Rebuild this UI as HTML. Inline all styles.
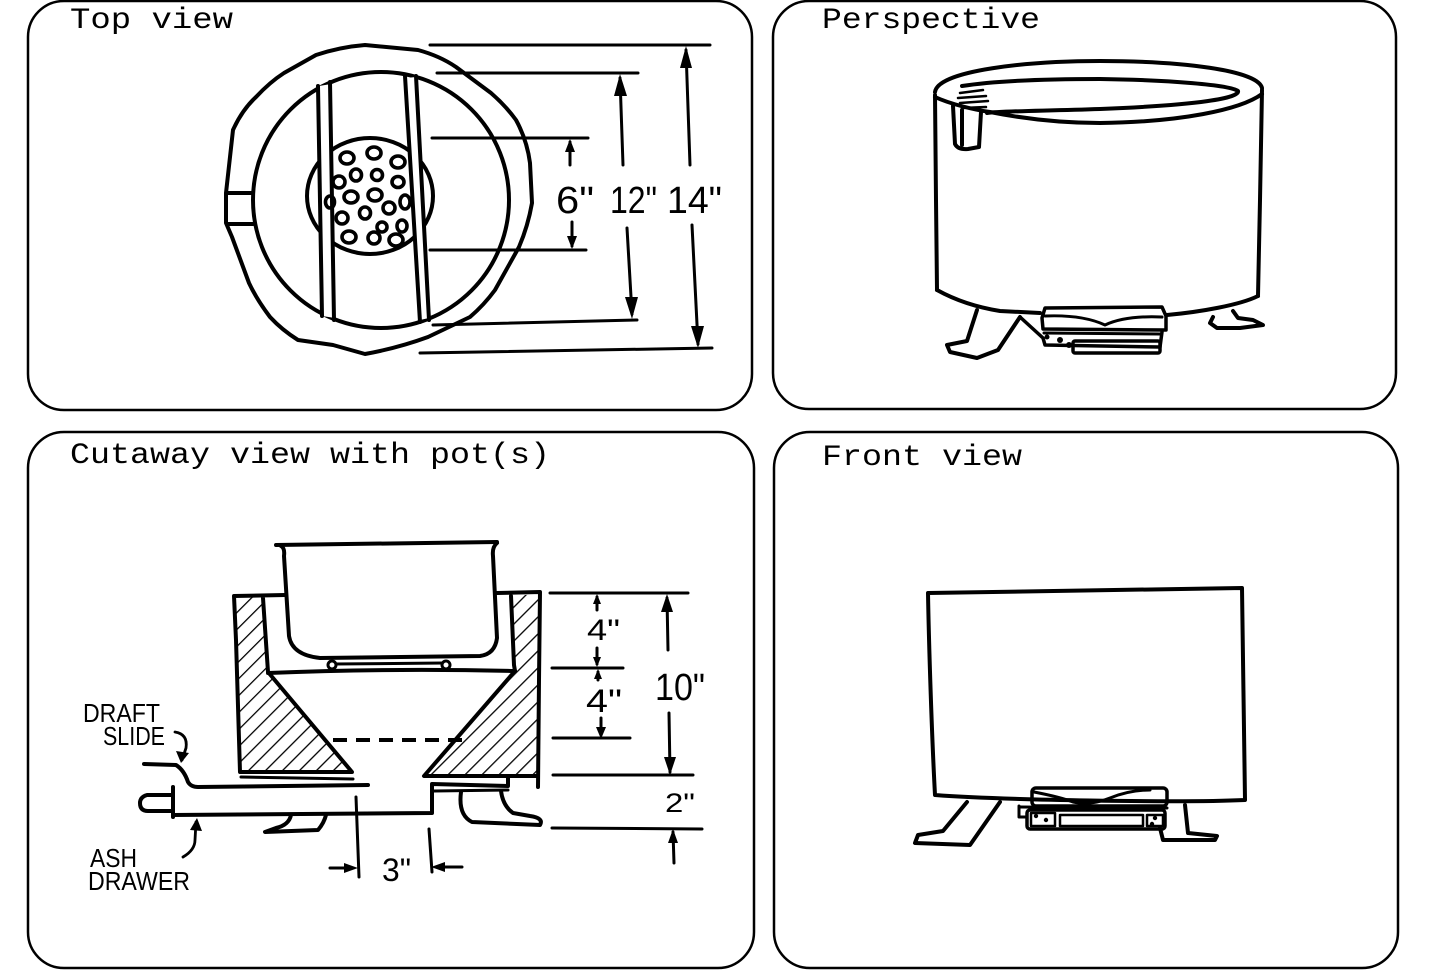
<!DOCTYPE html>
<html>
<head>
<meta charset="utf-8">
<style>
  html,body{margin:0;padding:0;background:#fff;}
  svg{display:block;}
  .t{font-family:"Liberation Mono",monospace;font-size:30px;fill:#000;}
  .h{font-family:"Liberation Sans",sans-serif;fill:#000;}
</style>
</head>
<body>
<svg width="1440" height="980" viewBox="0 0 1440 980" xmlns="http://www.w3.org/2000/svg">
  <defs>
    <pattern id="hatch" patternUnits="userSpaceOnUse" width="12" height="12" patternTransform="rotate(45)">
      <line x1="0" y1="0" x2="0" y2="12" stroke="#000" stroke-width="2.6"/>
    </pattern>
  </defs>
  <rect width="1440" height="980" fill="#fff"/>

  <!-- panel frames -->
  <g fill="none" stroke="#000" stroke-width="2.5">
    <rect x="28" y="1" width="724" height="409" rx="36" ry="36"/>
    <rect x="773" y="1" width="623" height="408" rx="36" ry="36"/>
    <rect x="28" y="432" width="726" height="536" rx="36" ry="36"/>
    <rect x="774" y="432" width="624" height="536" rx="36" ry="36"/>
  </g>

  <!-- titles -->
  <text class="t" x="70" y="28" textLength="163" lengthAdjust="spacingAndGlyphs">Top view</text>
  <text class="t" x="822" y="28" textLength="218" lengthAdjust="spacingAndGlyphs">Perspective</text>
  <text class="t" x="70" y="463" textLength="480" lengthAdjust="spacingAndGlyphs">Cutaway view with pot(s)</text>
  <text class="t" x="822" y="465" textLength="200" lengthAdjust="spacingAndGlyphs">Front view</text>

  <!-- ================= TOP VIEW ================= -->
  <g fill="none" stroke="#000" stroke-width="4" stroke-linejoin="round" stroke-linecap="round">
    <!-- outer ring -->
    <path d="M226 193 L233 130 Q242 110 256 97 Q270 82 284 73 L316 55 Q340 47 365 45 L418 50 Q440 56 456 67 L491 93 Q505 105 516 120 Q527 140 530 163 L532 203 Q528 226 519 247 L495 290 Q484 305 470 317 L428 337 Q398 348 365 354 L333 345 L298 340 Q282 330 270 317 Q257 300 249 283 L232 237 L226 223 Z"/>
    <line x1="227" y1="193" x2="253" y2="193"/>
    <line x1="228" y1="224" x2="253" y2="224"/>
    <!-- inner circle -->
    <ellipse cx="381" cy="200" rx="128" ry="128"/>
    <!-- grate circle -->
    <ellipse cx="370" cy="196" rx="63" ry="58"/>
  </g>
  <!-- rails covering grate -->
  <g fill="#fff" stroke="none">
    <polygon points="319,86 331,84 335,318 322,316"/>
    <polygon points="406,78 416,77 429,318 420,320"/>
  </g>
  <g fill="none" stroke="#000" stroke-width="4" stroke-linecap="round">
    <line x1="318" y1="86" x2="322" y2="316"/>
    <line x1="330" y1="82" x2="334" y2="320"/>
    <line x1="405" y1="76" x2="420" y2="322"/>
    <line x1="416" y1="76" x2="429" y2="320"/>
  </g>
  <!-- holes -->
  <g fill="none" stroke="#000" stroke-width="3.6">
    <ellipse cx="347" cy="158" rx="7" ry="6"/>
    <ellipse cx="374" cy="153" rx="7" ry="6"/>
    <ellipse cx="398" cy="162" rx="7" ry="6"/>
    <ellipse cx="339" cy="182" rx="6" ry="6"/>
    <ellipse cx="356" cy="175" rx="5.5" ry="6"/>
    <ellipse cx="377" cy="175" rx="5.5" ry="5.5"/>
    <ellipse cx="398" cy="182" rx="6" ry="5.5"/>
    <ellipse cx="330" cy="202" rx="4.5" ry="6"/>
    <ellipse cx="351" cy="197" rx="7" ry="6"/>
    <ellipse cx="375" cy="195" rx="7" ry="6"/>
    <ellipse cx="405" cy="202" rx="5" ry="7"/>
    <ellipse cx="342" cy="218" rx="6" ry="6"/>
    <ellipse cx="365" cy="213" rx="5.5" ry="6"/>
    <ellipse cx="389" cy="208" rx="6" ry="6"/>
    <ellipse cx="382" cy="227" rx="5" ry="5"/>
    <ellipse cx="402" cy="226" rx="5" ry="6"/>
    <ellipse cx="349" cy="237" rx="7" ry="6"/>
    <ellipse cx="374" cy="238" rx="6" ry="6"/>
    <ellipse cx="396" cy="240" rx="7" ry="6"/>
  </g>
  <!-- top view dimension lines -->
  <g fill="none" stroke="#000" stroke-width="3" stroke-linecap="round">
    <line x1="432" y1="138" x2="588" y2="138"/>
    <line x1="430" y1="250" x2="586" y2="250"/>
    <line x1="437" y1="73" x2="638" y2="73"/>
    <line x1="433" y1="325" x2="637" y2="320"/>
    <line x1="430" y1="45" x2="710" y2="45"/>
    <line x1="420" y1="353" x2="712" y2="348"/>
    <line x1="570" y1="142" x2="570" y2="165"/>
    <line x1="572" y1="222" x2="572" y2="246"/>
    <line x1="620" y1="78" x2="623" y2="165"/>
    <line x1="627" y1="228" x2="632" y2="314"/>
    <line x1="686" y1="50" x2="690" y2="165"/>
    <line x1="692" y1="225" x2="698" y2="344"/>
  </g>
  <g fill="#000" stroke="none">
    <polygon points="570,139 565,152 575,152"/>
    <polygon points="572,249 567,236 577,236"/>
    <polygon points="620,74 614,96 627,96"/>
    <polygon points="632,319 625,297 638,297"/>
    <polygon points="686,46 680,68 692,68"/>
    <polygon points="698,348 691,326 704,326"/>
  </g>
  <g class="h" font-size="38">
    <text x="556" y="213" textLength="38" lengthAdjust="spacingAndGlyphs">6"</text>
    <text x="610" y="213" textLength="47" lengthAdjust="spacingAndGlyphs">12"</text>
    <text x="667" y="213" textLength="55" lengthAdjust="spacingAndGlyphs">14"</text>
  </g>

  <!-- ================= PERSPECTIVE ================= -->
  <g fill="none" stroke="#000" stroke-width="4" stroke-linejoin="round" stroke-linecap="round">
    <path d="M935 92 C938 70, 1030 61, 1100 61 C1180 61, 1258 70, 1262 88"/>
    <path d="M935 97 C950 104, 975 110, 990 112 C1030 120, 1070 123, 1100 123 C1180 122, 1240 110, 1262 94"/>
    <path d="M962 86 C1000 80, 1060 79, 1100 79 C1170 80, 1230 85, 1238 91 C1240 98, 1200 105, 1100 109 C1040 111, 1000 111, 987 113"/>
    <path d="M935 95 L936 200 L937 290"/>
    <path d="M1262 90 L1260 200 L1258 296"/>
    <path d="M937 290 C955 300, 975 307, 1000 311 L1040 313"/>
    <path d="M1167 315 C1200 312, 1240 305, 1258 296"/>
    <path d="M953 106 L955 144 Q958 150 968 149 L979 147 L981 112"/>
    <line x1="962" y1="110" x2="962" y2="145"/>
    <path d="M960 93 L983 90 M958 98 L986 96 M960 103 L988 101 M962 108 L986 107" stroke-width="2.5"/>
    <path d="M977 310 L967 341 L947 345 L950 352 L977 358 L998 350 L1020 317"/>
    <path d="M1213 317 L1210 323 L1217 328 L1240 328 L1263 325 L1253 320 L1238 318 L1233 311"/>
    <path d="M1042 318 L1045 308 L1162 307 L1166 316 L1166 330 L1043 329 Z" stroke-width="3.5"/>
    <path d="M1045 316 C1070 315, 1090 318, 1105 325 C1120 318, 1140 316, 1162 317" stroke-width="3"/>
    <path d="M1020 317 L1043 338 L1045 345 L1160 347 L1162 332" stroke-width="3.5"/>
    <rect x="1073" y="341" width="87" height="12" rx="2" stroke-width="3.5"/>
    <path d="M1044 333 L1160 334" stroke-width="3"/>
  </g>
  <g fill="#000">
    <circle cx="1047" cy="337" r="2.5"/>
    <circle cx="1060" cy="340" r="3"/>
    <circle cx="1069" cy="345" r="3"/>
  </g>

  <!-- ================= CUTAWAY ================= -->
  <polygon points="236,596 263,596 268,672 352,770 240,772" fill="url(#hatch)" stroke="none"/>
  <polygon points="511,596 539,594 538,776 424,777 515,671" fill="url(#hatch)" stroke="none"/>
  <g fill="none" stroke="#000" stroke-width="4" stroke-linejoin="round" stroke-linecap="round">
    <path d="M285 595 L234 596 L236 640 L240 772 L352 772 L268 672 L263 598"/>
    <path d="M497 593 L540 592 L539 680 L538 787"/>
    <path d="M511 596 L514 665 L515 671 L424 776 L538 776"/>
    <path d="M276 545 L497 542"/>
    <path d="M281 546 Q285 548 284 556 L289 636 Q292 655 320 658 L480 656 Q495 654 497 638 L493 556 Q492 547 497 543"/>
    <path d="M268 673 Q390 668 515 671"/>
    <line x1="334" y1="664" x2="444" y2="663" stroke-width="3"/>
    <line x1="241" y1="777" x2="353" y2="779" stroke-width="3"/>
    <path d="M144 764 L176 765 Q184 770 188 782 Q191 787 198 787 L368 785"/>
    <line x1="173" y1="787" x2="173" y2="817"/>
    <path d="M173 795 L147 795 Q140 797 140 803 Q140 811 148 811 L173 811"/>
    <path d="M173 815 L432 813 L432 784 L508 786 L508 778"/>
    <line x1="434" y1="791" x2="508" y2="790" stroke-width="3"/>
    <path d="M291 815 Q289 825 276 828 L265 832 L318 830 Q324 823 326 815"/>
    <path d="M461 792 Q458 815 472 822 L540 825 Q544 818 530 816 L513 813 Q503 806 501 791"/>
  </g>
  <g fill="#fff" stroke="#000" stroke-width="3">
    <circle cx="332" cy="665" r="4"/>
    <circle cx="446" cy="665" r="4"/>
  </g>
  <line x1="333" y1="740" x2="465" y2="740" stroke="#000" stroke-width="4" stroke-dasharray="14 9"/>
  <g fill="none" stroke="#000" stroke-width="3" stroke-linecap="round">
    <line x1="550" y1="593" x2="688" y2="593"/>
    <line x1="552" y1="668" x2="623" y2="668"/>
    <line x1="553" y1="738" x2="630" y2="738"/>
    <line x1="553" y1="775" x2="693" y2="775"/>
    <line x1="552" y1="828" x2="702" y2="829"/>
    <line x1="597" y1="597" x2="597" y2="610"/>
    <line x1="597" y1="648" x2="597" y2="664"/>
    <line x1="598" y1="672" x2="598" y2="680"/>
    <line x1="601" y1="718" x2="601" y2="734"/>
    <line x1="667" y1="598" x2="668" y2="650"/>
    <line x1="669" y1="713" x2="670" y2="772"/>
    <line x1="673" y1="832" x2="674" y2="863"/>
    <line x1="356" y1="797" x2="359" y2="877"/>
    <line x1="429" y1="829" x2="432" y2="872"/>
    <line x1="330" y1="868" x2="352" y2="868"/>
    <line x1="438" y1="867" x2="462" y2="867"/>
    <path d="M175 732 Q188 734 186 748 L182 760" stroke-width="2.8"/>
    <path d="M183 857 Q195 850 195 840 L196 822" stroke-width="2.8"/>
  </g>
  <g fill="#000" stroke="none">
    <polygon points="597,594 593,604 601,604"/>
    <polygon points="597,667 593,657 601,657"/>
    <polygon points="598,669 594,679 602,679"/>
    <polygon points="601,739 596,727 606,727"/>
    <polygon points="667,594 661,612 673,612"/>
    <polygon points="670,775 664,757 676,757"/>
    <polygon points="673,829 668,843 678,843"/>
    <polygon points="358,868 344,863 344,873"/>
    <polygon points="431,867 445,862 445,872"/>
    <polygon points="181,763 176,751 189,753"/>
    <polygon points="197,818 190,830 202,831"/>
  </g>
  <g class="h">
    <text x="587" y="640" font-size="30" textLength="33" lengthAdjust="spacingAndGlyphs">4"</text>
    <text x="586" y="712" font-size="32" textLength="36" lengthAdjust="spacingAndGlyphs">4"</text>
    <text x="655" y="700" font-size="38" textLength="50" lengthAdjust="spacingAndGlyphs">10"</text>
    <text x="665" y="812" font-size="27" textLength="30" lengthAdjust="spacingAndGlyphs">2"</text>
    <text x="382" y="881" font-size="32" textLength="29" lengthAdjust="spacingAndGlyphs">3"</text>
    <text x="83" y="722" font-size="26" textLength="77" lengthAdjust="spacingAndGlyphs">DRAFT</text>
    <text x="103" y="745" font-size="26" textLength="62" lengthAdjust="spacingAndGlyphs">SLIDE</text>
    <text x="90" y="867" font-size="26" textLength="47" lengthAdjust="spacingAndGlyphs">ASH</text>
    <text x="88" y="890" font-size="26" textLength="102" lengthAdjust="spacingAndGlyphs">DRAWER</text>
  </g>

  <!-- ================= FRONT VIEW ================= -->
  <g fill="none" stroke="#000" stroke-width="4" stroke-linejoin="round" stroke-linecap="round">
    <path d="M928 593 L1242 588 C1243 650, 1244 740, 1245 800 C1180 803, 1000 800, 935 795 C932 740, 929 650, 928 593 Z"/>
    <path d="M967 802 L943 831 L918 835 L915 843 L970 845 L1000 802"/>
    <path d="M1160 828 L1163 840 L1215 840 L1217 836 L1188 833 L1185 805"/>
    <rect x="1032" y="788" width="135" height="18" rx="4" stroke-width="3.5"/>
    <path d="M1034 792 Q1060 797 1073 802 Q1090 806 1110 798 Q1130 790 1150 790" stroke-width="3"/>
    <line x1="1020" y1="807" x2="1167" y2="808" stroke-width="3"/>
    <rect x="1027" y="810" width="138" height="19" rx="3" stroke-width="3.5"/>
    <rect x="1031" y="813" width="24" height="13" stroke-width="2.5"/>
    <rect x="1060" y="815" width="83" height="11" stroke-width="2.5"/>
    <rect x="1147" y="815" width="16" height="11" stroke-width="2.5"/>
    <path d="M1019 806 L1019 817 L1027 817" stroke-width="3"/>
  </g>
  <g fill="#000">
    <circle cx="1036" cy="816" r="2.2"/>
    <circle cx="1046" cy="820" r="2.2"/>
    <circle cx="1155" cy="818" r="2.2"/>
    <circle cx="1152" cy="824" r="2.2"/>
  </g>
</svg>
</body>
</html>
